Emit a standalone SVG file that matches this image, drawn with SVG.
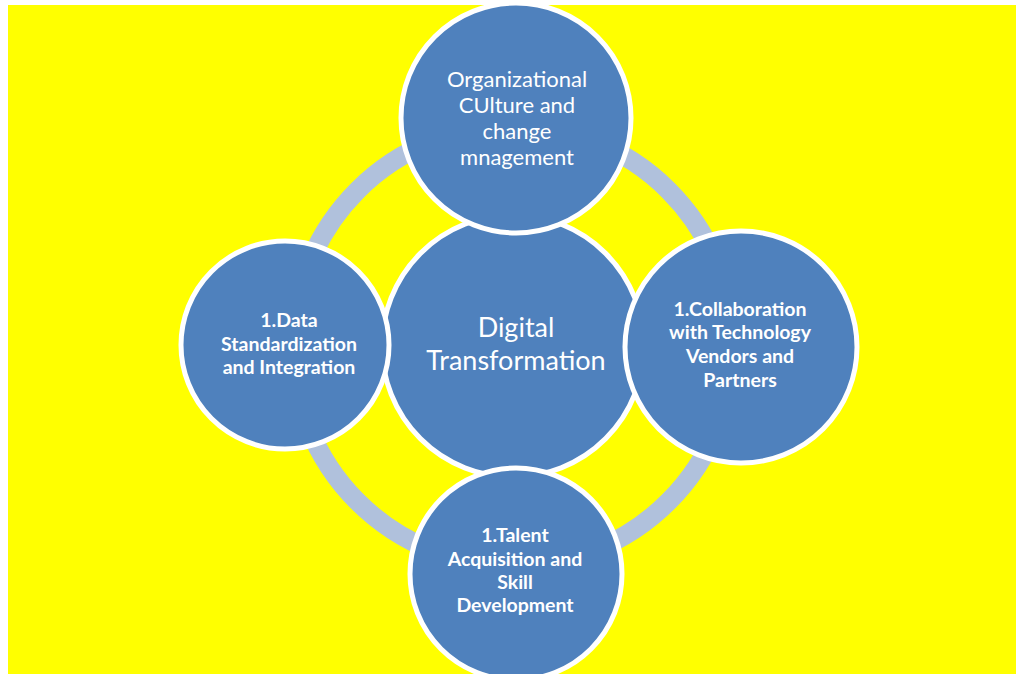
<svg xmlns="http://www.w3.org/2000/svg" width="1016" height="674" viewBox="0 0 1016 674">
<style>
.bg{fill:#ffffff}
.panel{fill:#ffff00}
.ring{fill:none;stroke:#b0c1dc;stroke-width:19}
.node{fill:#4f81bd;stroke:#ffffff;stroke-width:5}
.t{font-family:Lato,"Liberation Sans",sans-serif;fill:#ffffff;text-anchor:middle}
.reg{font-size:22px}
.big{font-size:27px}
.bold{font-size:19.5px;font-weight:bold}
</style>
<rect class="bg" x="0" y="0" width="1016" height="674"/>
<rect class="panel" x="8" y="5" width="1008" height="669"/>
<g id="connectors">
<circle class="ring" cx="513" cy="346" r="220"/>
</g>
<g id="center">
<circle class="node" cx="513" cy="346" r="131"/>
<text class="t big" x="516" y="337">Digital</text>
<text class="t big" x="516" y="370">Transformation</text>
</g>
<g id="top">
<circle class="node" cx="516" cy="118" r="115"/>
<text class="t reg" x="517" y="87">Organizational</text>
<text class="t reg" x="517" y="113">CUlture and</text>
<text class="t reg" x="517" y="139">change</text>
<text class="t reg" x="517" y="165">mnagement</text>
</g>
<g id="left">
<circle class="node" cx="285" cy="345" r="104"/>
<text class="t bold" x="289" y="327">1.Data</text>
<text class="t bold" x="289" y="351">Standardization</text>
<text class="t bold" x="289" y="374">and Integration</text>
</g>
<g id="right">
<circle class="node" cx="741" cy="347" r="116"/>
<text class="t bold" x="740" y="316">1.Collaboration</text>
<text class="t bold" x="740" y="339">with Technology</text>
<text class="t bold" x="740" y="363">Vendors and</text>
<text class="t bold" x="740" y="387">Partners</text>
</g>
<g id="bottom">
<circle class="node" cx="516" cy="574" r="106"/>
<text class="t bold" x="515" y="542">1.Talent</text>
<text class="t bold" x="515" y="566">Acquisition and</text>
<text class="t bold" x="515" y="589">Skill</text>
<text class="t bold" x="515" y="612">Development</text>
</g>
</svg>
